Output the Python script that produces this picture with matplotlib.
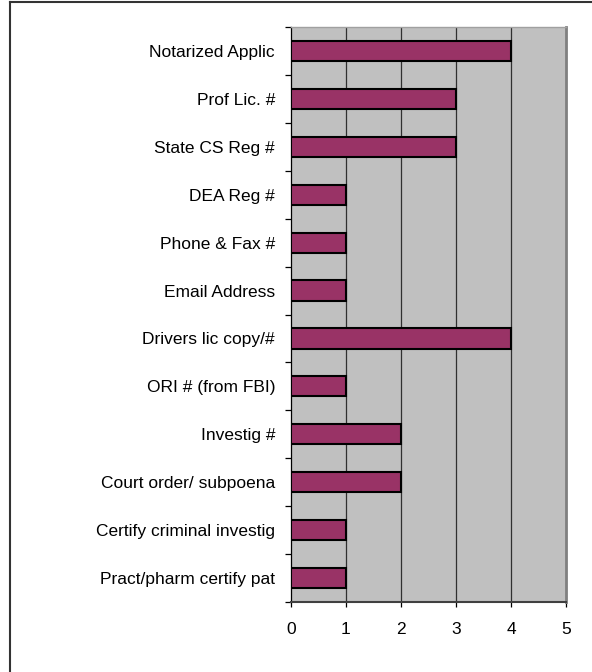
import matplotlib.pyplot as plt
from matplotlib.lines import Line2D

labels = ["Notarized Applic", "Prof Lic. #", "State CS Reg #", "DEA Reg #",
          "Phone & Fax #", "Email Address", "Drivers lic copy/#",
          "ORI # (from FBI)", "Investig #", "Court order/ subpoena",
          "Certify criminal investig", "Pract/pharm certify pat"]
counts = [4, 3, 3, 1, 1, 1, 4, 1, 2, 2, 1, 1]
xticks = [0, 1, 2, 3, 4, 5]

plt.rcParams['font.family'] = ['Liberation Sans', 'DejaVu Sans']

W, H = 592, 672
fig = plt.figure(figsize=(W / 100, H / 100), dpi=100)

# outer chart border (runs off the right and bottom edges)
fig.add_artist(Line2D([10 / W, 10 / W], [0, 1 - 2 / H], transform=fig.transFigure,
                      color='#333333', linewidth=1.5))
fig.add_artist(Line2D([10 / W, 1], [1 - 2 / H, 1 - 2 / H], transform=fig.transFigure,
                      color='#333333', linewidth=1.5))

# plot area: x 291..566 px, y 27..602 px
ax = fig.add_axes([291 / W, 1 - 602 / H, 275 / W, 575 / H])
ax.set_facecolor('#C0C0C0')

n = len(labels)
ypos = list(range(n - 1, -1, -1))
ax.barh(ypos, counts, height=0.42, color='#993366', edgecolor='black',
        linewidth=1.5, zorder=3)

ax.set_xlim(0, 5)
ax.set_ylim(-0.5, n - 0.5)
ax.set_xticks(xticks)
ax.set_xticklabels([str(t) for t in xticks], fontsize=12.5)
for x in xticks[1:-1]:
    ax.axvline(x, color='#303030', linewidth=0.9, zorder=1)

# category labels at bar centres, tick marks at category boundaries
ax.set_yticks(ypos)
ax.set_yticklabels(labels, fontsize=12.5)
ax.tick_params(axis='y', length=0, pad=11.5)
ax.set_yticks([i - 0.5 for i in range(n + 1)], minor=True)
ax.tick_params(axis='y', which='minor', length=4, direction='out', width=0.9)
ax.tick_params(axis='x', length=3.6, direction='out', width=0.9, pad=11)

ax.spines['top'].set_color('#A0A0A0')
ax.spines['top'].set_linewidth(1.0)
ax.spines['right'].set_color('#808080')
ax.spines['right'].set_linewidth(2.0)
ax.spines['left'].set_color('black')
ax.spines['left'].set_linewidth(0.9)
ax.spines['bottom'].set_color('#404040')
ax.spines['bottom'].set_linewidth(1.5)

fig.savefig('out.png', dpi=100)
